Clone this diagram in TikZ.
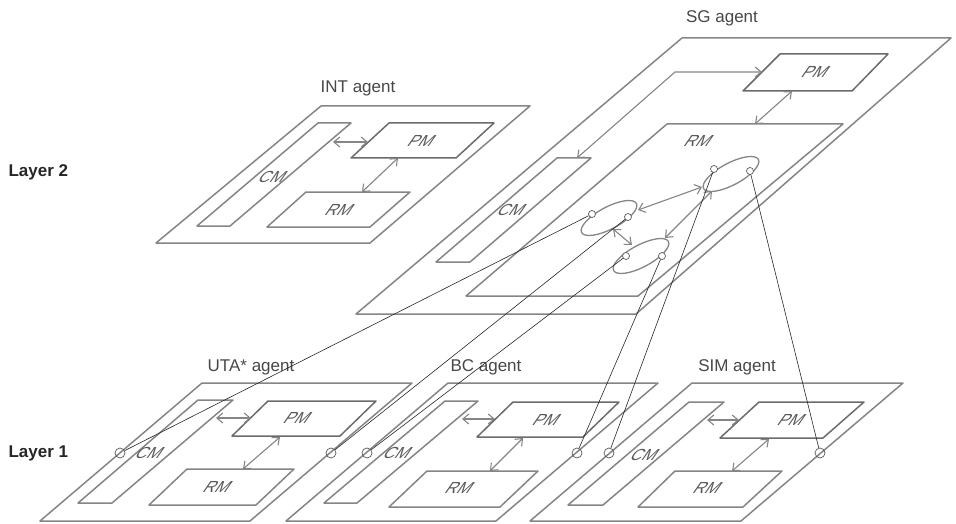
\documentclass[tikz,border=0pt]{standalone}
\usepackage{fontspec}
\setmainfont{Liberation Sans}
\usetikzlibrary{arrows.meta}
\begin{document}
\begin{tikzpicture}[x=1pt,y=-1pt,
  plane/.style={draw=black!48, line width=1.5pt, line join=round},
  modbox/.style={draw=black!58, line width=1.5pt, line join=round},
  biarr/.style={draw=black!48, line width=1.1pt, {Straight Barb[length=6pt,width=10pt]}-{Straight Barb[length=6pt,width=10pt]}},
  conn/.style={draw=black!85, line width=0.6pt},
  port/.style={circle, draw=black!65, line width=0.7pt, inner sep=0pt, minimum size=10pt},
  sport/.style={port, minimum size=7pt},
  ringline/.style={draw=black!48, line width=1.3pt},
  agentlbl/.style={font=\fontsize{17}{20}\selectfont, text=black!72},
  layerlbl/.style={font=\bfseries\fontsize{17}{20}\selectfont, text=black!85, anchor=west},
  boxlbl/.style={font=\fontsize{16}{18}\selectfont, text=black!65, xslant=0.7, transform shape}
]
\useasboundingbox (0,0) rectangle (956,524);

% ---------- layer labels ----------
\node[layerlbl] (lay2) at (5,172) {Layer 2};
\node[layerlbl] (lay1) at (5,453) {Layer 1};

% ---------- INT agent ----------
\node[agentlbl] (intlbl) at (358,88) {INT agent};
\draw[plane] (321,106) -- (530,106) -- (370,243) -- (156,243) -- cycle;
\draw[plane] (318,123) -- (351,123) -- (230,226) -- (197,226) -- cycle;
\draw[modbox] (389,123) -- (494,123) -- (456,158) -- (351,158) -- cycle;
\draw[plane] (306,192) -- (410,192) -- (370,227) -- (267,227) -- cycle;
\node[boxlbl] (intCM) at (273,177) {CM};
\node[boxlbl] (intPM) at (422,141) {PM};
\node[boxlbl] (intRM) at (340,210) {RM};
\coordinate (intCMr) at (333,142);
\coordinate (intPMl) at (368,142);
\coordinate (intPMb) at (398,158);
\coordinate (intRMt) at (362,192);
\draw[biarr] (intCMr) -- (intPMl);
\draw[biarr] (intPMb) -- (intRMt);

% ---------- SG agent ----------
\node[agentlbl] (sglbl) at (722,18) {SG agent};
\draw[plane] (682,38) -- (951,38) -- (636,314) -- (356,314) -- cycle;
\draw[modbox] (780,54) -- (888,54) -- (852,91) -- (743,91) -- cycle;
\draw[plane] (667,124) -- (843,124) -- (638,296) -- (466,296) -- cycle;
\draw[plane] (557,158) -- (591,158) -- (470,262) -- (436,262) -- cycle;
\node[boxlbl] (sgPM) at (816,72) {PM};
\node[boxlbl] (sgRM) at (699,141) {RM};
\node[boxlbl] (sgCM) at (512,210) {CM};
\coordinate (sgCMt) at (577,158);
\coordinate (sgBend) at (675,72);
\coordinate (sgPMl) at (762,72);
\coordinate (sgPMb) at (792,91);
\coordinate (sgRMt) at (755,124);
\draw[biarr] (sgCMt) -- (sgBend) -- (sgPMl);
\draw[biarr] (sgPMb) -- (sgRMt);

% ellipses in SG RM
\coordinate (ellA) at (731,174);
\coordinate (ellB) at (609,218);
\coordinate (ellC) at (641,256);
\draw[ringline, rotate around={28:(ellA)}] (ellA) ellipse [x radius=31, y radius=11];
\draw[ringline, rotate around={28:(ellB)}] (ellB) ellipse [x radius=31, y radius=11];
\draw[ringline, rotate around={28:(ellC)}] (ellC) ellipse [x radius=31, y radius=11];
\coordinate (eBA1) at (638,210);
\coordinate (eBA2) at (702,187);
\coordinate (eCA1) at (665,238);
\coordinate (eCA2) at (712,191);
\coordinate (eBC1) at (613,229);
\coordinate (eBC2) at (632,245);
\draw[biarr] (eBA1) -- (eBA2);
\draw[biarr] (eCA1) -- (eCA2);
\draw[biarr] (eBC1) -- (eBC2);
\node[sport, fill=white] (pAl) at (714,169) {};
\node[sport, fill=white] (pAr) at (750,171) {};
\node[sport, fill=white] (pBl) at (592,214) {};
\node[sport, fill=white] (pBr) at (628,217) {};
\node[sport, fill=white] (pCl) at (626,256) {};
\node[sport, fill=white] (pCr) at (662,256) {};

% ---------- UTA* agent ----------
\node[agentlbl] (utalbl) at (251,367) {UTA* agent};
\draw[plane] (202,383) -- (412,383) -- (250,521) -- (40,521) -- cycle;
\draw[plane] (198,400) -- (233,400) -- (112,503) -- (78,503) -- cycle;
\draw[modbox] (268,401) -- (376,401) -- (340,436) -- (232,436) -- cycle;
\draw[plane] (187,469) -- (294,469) -- (256,505) -- (149,505) -- cycle;
\node[boxlbl] (utaCM) at (150,453) {CM};
\node[boxlbl] (utaPM) at (298,418) {PM};
\node[boxlbl] (utaRM) at (218,487) {RM};
\coordinate (utaCMr) at (216,418);
\coordinate (utaPMl) at (251,418);
\coordinate (utaPMb) at (280,437);
\coordinate (utaRMt) at (243,469);
\draw[biarr] (utaCMr) -- (utaPMl);
\draw[biarr] (utaPMb) -- (utaRMt);

% ---------- BC agent ----------
\node[agentlbl] (bclbl) at (486,367) {BC agent};
\draw[plane] (448,383) -- (658,383) -- (496,521) -- (286,521) -- cycle;
\draw[plane] (445,401) -- (478,401) -- (357,503) -- (324,503) -- cycle;
\draw[modbox] (513,402) -- (619,402) -- (583,437) -- (477,437) -- cycle;
\draw[plane] (427,471) -- (538,471) -- (500,507) -- (389,507) -- cycle;
\node[boxlbl] (bcCM) at (398,453) {CM};
\node[boxlbl] (bcPM) at (547,420) {PM};
\node[boxlbl] (bcRM) at (460,488) {RM};
\coordinate (bcCMr) at (462,419);
\coordinate (bcPMl) at (495,419);
\coordinate (bcPMb) at (523,438);
\coordinate (bcRMt) at (490,471);
\draw[biarr] (bcCMr) -- (bcPMl);
\draw[biarr] (bcPMb) -- (bcRMt);

% ---------- SIM agent ----------
\node[agentlbl] (simlbl) at (737,367) {SIM agent};
\draw[plane] (692,383) -- (903,383) -- (741,521) -- (530,521) -- cycle;
\draw[plane] (689,402) -- (724,402) -- (603,505) -- (568,505) -- cycle;
\draw[modbox] (759,402) -- (864,402) -- (823,438) -- (720,438) -- cycle;
\draw[plane] (675,471) -- (782,471) -- (743,507) -- (638,507) -- cycle;
\node[boxlbl] (simCM) at (645,455) {CM};
\node[boxlbl] (simPM) at (792,420) {PM};
\node[boxlbl] (simRM) at (708,488) {RM};
\coordinate (simCMr) at (707,420);
\coordinate (simPMl) at (739,420);
\coordinate (simPMb) at (769,439);
\coordinate (simRMt) at (732,471);
\draw[biarr] (simCMr) -- (simPMl);
\draw[biarr] (simPMb) -- (simRMt);

% ---------- layer-1 ports ----------
\node[port] (qUl) at (120,453) {};
\node[port] (qUr) at (331,453) {};
\node[port] (qBl) at (367,453) {};
\node[port] (qBr) at (577,453) {};
\node[port] (qSl) at (609,453) {};
\node[port] (qSr) at (820,453) {};

% ---------- inter-layer connectors ----------
\draw[conn] (pBl) -- (qUl);
\draw[conn] (pBr) -- (qUr);
\draw[conn] (pCl) -- (qBl);
\draw[conn] (pCr) -- (qBr);
\draw[conn] (pAl) -- (qSl);
\draw[conn] (pAr) -- (qSr);
\end{tikzpicture}
\end{document}
